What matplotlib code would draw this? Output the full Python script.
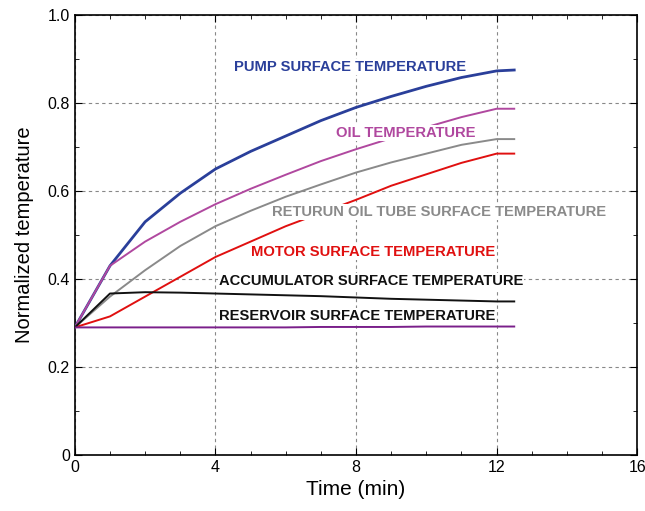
import matplotlib
matplotlib.use('Agg')
from matplotlib import pyplot as plt
from matplotlib.ticker import MultipleLocator

t = [0, 1, 2, 3, 4, 5, 6, 7, 8, 9, 10, 11, 12, 12.5]
pump = [0.29, 0.43, 0.53, 0.595, 0.65, 0.69, 0.725, 0.76, 0.79, 0.815, 0.838, 0.858, 0.873, 0.875]
oil = [0.29, 0.43, 0.485, 0.53, 0.57, 0.605, 0.637, 0.668, 0.695, 0.72, 0.745, 0.768, 0.787, 0.787]
tube = [0.29, 0.36, 0.42, 0.475, 0.52, 0.555, 0.587, 0.615, 0.642, 0.665, 0.685, 0.705, 0.718, 0.718]
motor = [0.29, 0.315, 0.36, 0.405, 0.45, 0.485, 0.52, 0.55, 0.58, 0.612, 0.638, 0.664, 0.685, 0.685]
accum = [0.29, 0.367, 0.37, 0.369, 0.367, 0.365, 0.363, 0.361, 0.358, 0.355, 0.353, 0.351, 0.349, 0.349]
reservoir = [0.29, 0.29, 0.29, 0.29, 0.29, 0.29, 0.29, 0.291, 0.291, 0.291, 0.292, 0.292, 0.292, 0.292]

# (values, line colour, width, label, label colour, label x, label y)
series = [
    (pump, '#2a3f9a', 2.0, 'PUMP SURFACE TEMPERATURE', '#2a3f9a', 7.83, 0.882),
    (oil, '#b0489f', 1.4, 'OIL TEMPERATURE', '#b0489f', 9.4, 0.732),
    (tube, '#8a8a8a', 1.4, 'RETURUN OIL TUBE SURFACE TEMPERATURE', '#8a8a8a', 10.37, 0.552),
    (motor, '#e01010', 1.4, 'MOTOR SURFACE TEMPERATURE', '#e01010', 8.49, 0.461),
    (accum, '#111111', 1.4, 'ACCUMULATOR SURFACE TEMPERATURE', '#111111', 8.43, 0.395),
    (reservoir, '#7a1f8a', 1.4, 'RESERVOIR SURFACE TEMPERATURE', '#111111', 8.03, 0.316),
]

plt.rcParams['font.family'] = ['Liberation Sans', 'DejaVu Sans']

fig = plt.figure(figsize=(6.45, 5.11), dpi=100)
ax = fig.add_axes([0.116, 0.1096, 0.872, 0.861])

for vals, col, lw, label, tcol, lx, ly in series:
    ax.plot(t, vals, color=col, lw=lw, zorder=3)
    ax.text(lx, ly, label, color=tcol, fontsize=10.6, fontweight='bold',
            ha='center', va='center', zorder=4,
            bbox=dict(facecolor='white', edgecolor='none', pad=0.5))

ax.set_xlim(0, 16)
ax.set_ylim(0, 1.0)
ax.xaxis.set_major_locator(MultipleLocator(4))
ax.xaxis.set_minor_locator(MultipleLocator(1))
ax.yaxis.set_minor_locator(MultipleLocator(0.1))
ax.set_yticks([0, 0.2, 0.4, 0.6, 0.8, 1.0])
ax.set_yticklabels(['0', '0.2', '0.4', '0.6', '0.8', '1.0'])
ax.tick_params(which='both', direction='in', top=True, right=True, labelsize=11.5)
ax.tick_params(which='major', length=5)
ax.tick_params(which='minor', length=3)
ax.grid(True, which='major', ls=(0, (3, 3)), color='#888888', lw=0.8)
for s in ax.spines.values():
    s.set_linewidth(1.2)

ax.set_xlabel('Time (min)', fontsize=15)
ax.set_ylabel('Normalized temperature', fontsize=14.5, labelpad=10)

fig.savefig('out.png', dpi=100)
